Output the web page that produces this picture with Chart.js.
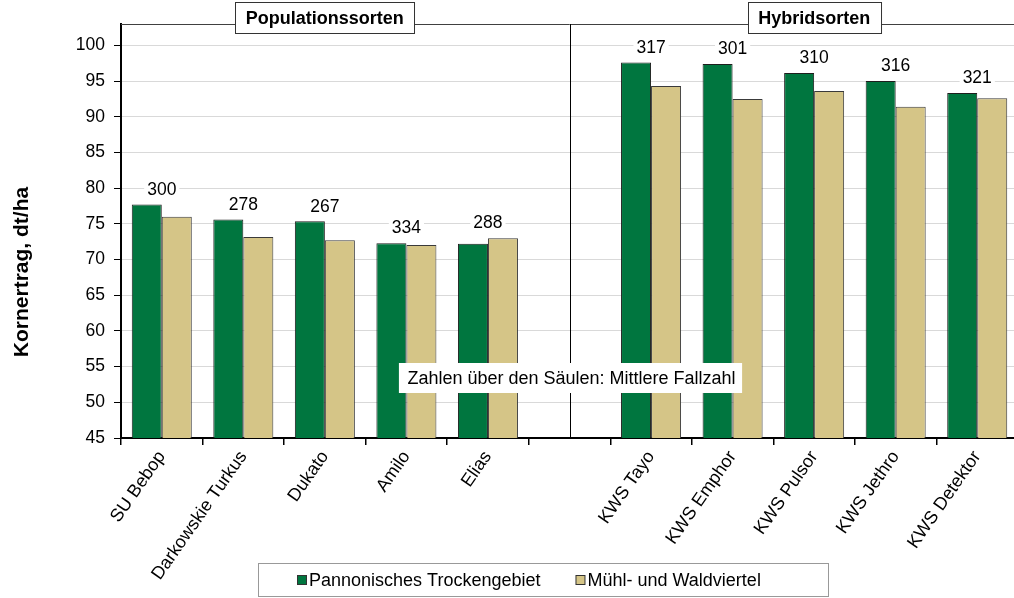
<!DOCTYPE html>
<html lang="de">
<head>
<meta charset="utf-8">
<title>Kornertrag Winterroggen</title>
<script src="https://cdn.jsdelivr.net/npm/chart.js@4.4.1/dist/chart.umd.min.js"></script>
<style>
  html, body { margin: 0; padding: 0; background: #fff; overflow: hidden; }
  #wrap { position: relative; width: 1018px; height: 598px; }
</style>
</head>
<body>
<div id="wrap"><canvas id="chart"></canvas></div>
<script>
// Sorten (leerer Platz trennt die beiden Gruppen)
const sorten = ['SU Bebop', 'Darkowskie Turkus', 'Dukato', 'Amilo', 'Elias', '',
  'KWS Tayo', 'KWS Emphor', 'KWS Pulsor', 'KWS Jethro', 'KWS Detektor'];
const pannonisch = [77.7, 75.6, 75.35, 72.3, 72.2, null, 97.6, 97.4, 96.15, 95.0, 93.35];
const muehlWald = [76.0, 73.15, 72.7, 72.05, 73.0, null, 94.3, 92.5, 93.6, 91.4, 92.6];
const fallzahl = [300, 278, 267, 334, 288, null, 317, 301, 310, 316, 321];
const gruppen = [
  { name: 'Populationssorten', from: 0, to: 4 },
  { name: 'Hybridsorten', from: 6, to: 10 }
];
const trennIndex = 5;
const yMin = 45, yMax = 103, yStep = 5;
const yTitel = 'Kornertrag, dt/ha';
const hinweis = 'Zahlen über den Säulen: Mittlere Fallzahl';

const FONT = "'Liberation Sans', Arial, Helvetica, sans-serif";
const GREEN = '#00763f';
const BEIGE = '#d5c587';

const extras = {
  id: 'extras',
  afterDatasetsDraw(chart) {
    const { ctx, chartArea: a, scales: { x, y } } = chart;
    ctx.save();

    // top border of plot area
    ctx.strokeStyle = '#404040';
    ctx.lineWidth = 1;
    ctx.beginPath();
    ctx.moveTo(a.left, a.top + 0.5);
    ctx.lineTo(a.right, a.top + 0.5);
    ctx.stroke();

    // separator between groups
    const sx = Math.round(x.getPixelForValue(trennIndex)) + 0.5;
    ctx.strokeStyle = '#000';
    ctx.beginPath();
    ctx.moveTo(sx, a.top);
    ctx.lineTo(sx, a.bottom);
    ctx.stroke();

    // Fallzahl above each pair
    ctx.font = `17.5px ${FONT}`;
    ctx.textAlign = 'center';
    ctx.textBaseline = 'middle';
    fallzahl.forEach((v, i) => {
      if (v == null) return;
      const top = y.getPixelForValue(Math.max(pannonisch[i], muehlWald[i]));
      const cx = x.getPixelForValue(i);
      const cy = top - 15.5;
      const w = ctx.measureText(String(v)).width + 6;
      ctx.fillStyle = '#fff';
      ctx.fillRect(cx - w / 2, cy - 9, w, 18);
      ctx.fillStyle = '#000';
      ctx.fillText(String(v), cx, cy + 1);
    });

    // note box
    ctx.font = `18px ${FONT}`;
    const nw = ctx.measureText(hinweis).width + 15;
    const ny = a.bottom - 60;
    ctx.fillStyle = '#fff';
    ctx.fillRect(sx - nw / 2, ny - 15, nw, 30);
    ctx.fillStyle = '#000';
    ctx.fillText(hinweis, sx + 1, ny + 1);

    // group title boxes
    ctx.font = `bold 18px ${FONT}`;
    gruppen.forEach(g => {
      const cx = (x.getPixelForValue(g.from) + x.getPixelForValue(g.to)) / 2;
      const w = ctx.measureText(g.name).width + 21;
      const bx = Math.round(cx - w / 2) + 0.5;
      const by = Math.round(a.top) - 21.5;
      ctx.fillStyle = '#fff';
      ctx.fillRect(bx, by, w, 31);
      ctx.strokeStyle = '#333';
      ctx.strokeRect(bx, by, w, 31);
      ctx.fillStyle = '#000';
      ctx.fillText(g.name, cx, by + 16.5);
    });

    // y axis title
    ctx.save();
    ctx.translate(22, 272);
    ctx.rotate(-Math.PI / 2);
    ctx.font = `bold 21px ${FONT}`;
    ctx.fillText(yTitel, 0, 0);
    ctx.restore();

    // legend
    ctx.strokeStyle = '#999';
    ctx.fillStyle = '#fff';
    ctx.fillRect(258.5, 563.5, 570, 33);
    ctx.strokeRect(258.5, 563.5, 570, 33);
    ctx.font = `18px ${FONT}`;
    ctx.textAlign = 'left';
    let lx = 297;
    chart.data.datasets.forEach(ds => {
      ctx.fillStyle = ds.backgroundColor;
      ctx.fillRect(lx + 0.5, 575.5, 9, 9);
      ctx.strokeStyle = '#333';
      ctx.strokeRect(lx + 0.5, 575.5, 9, 9);
      ctx.fillStyle = '#000';
      ctx.fillText(ds.label, lx + 12, 581);
      lx += 12 + ctx.measureText(ds.label).width + 35;
    });

    ctx.restore();
  }
};

new Chart(document.getElementById('chart'), {
  type: 'bar',
  data: {
    labels: sorten,
    datasets: [
      {
        label: 'Pannonisches Trockengebiet',
        data: pannonisch,
        backgroundColor: GREEN,
        borderColor: '#1e1e1e',
        borderWidth: 1
      },
      {
        label: 'Mühl- und Waldviertel',
        data: muehlWald,
        backgroundColor: BEIGE,
        borderColor: '#3a3a3a',
        borderWidth: 1
      }
    ]
  },
  options: {
    responsive: true,
    maintainAspectRatio: false,
    animation: false,
    layout: { padding: { top: 24, left: 0, right: 0, bottom: 0 } },
    datasets: {
      bar: { categoryPercentage: 0.736, barPercentage: 1.0 }
    },
    plugins: {
      legend: { display: false },
      tooltip: { enabled: false }
    },
    scales: {
      x: {
        afterFit: s => { s.height = 160; },
        border: { color: '#000', width: 2 },
        grid: {
          offset: true,
          drawOnChartArea: false,
          drawTicks: true,
          tickLength: 7,
          tickColor: '#000',
          lineWidth: 1.5
        },
        ticks: {
          color: '#000',
          font: { family: FONT, size: 18 },
          minRotation: 55,
          maxRotation: 55,
          autoSkip: false,
          padding: 2
        }
      },
      y: {
        min: yMin,
        max: yMax,
        afterFit: s => { s.width = 121; s.paddingTop = 0; },
        afterBuildTicks: s => { s.ticks = s.ticks.filter(t => t.value % yStep === 0); },
        border: { color: '#000', width: 2 },
        grid: {
          color: '#d9d9d9',
          tickColor: '#000',
          tickLength: 7,
          lineWidth: 1
        },
        ticks: {
          stepSize: yStep,
          color: '#000',
          font: { family: FONT, size: 17.5 },
          padding: 9
        }
      }
    }
  },
  plugins: [extras]
});
</script>
</body>
</html>
